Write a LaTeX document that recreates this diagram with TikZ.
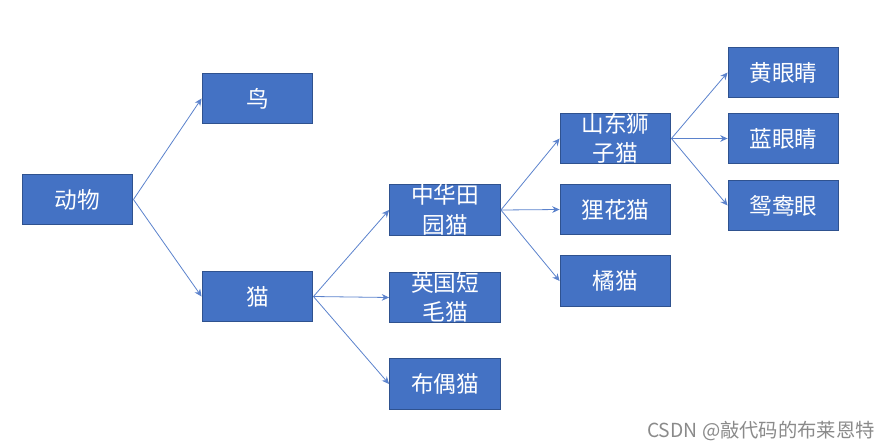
\documentclass[tikz,border=0pt]{standalone}
\usepackage{fontspec}
\newfontfamily\cjk{Noto Sans CJK SC}
\usetikzlibrary{arrows.meta}
\definecolor{boxblue}{HTML}{4472C4}
\definecolor{boxline}{HTML}{2F528F}
\definecolor{linkblue}{HTML}{5B82CC}
\definecolor{markgray}{HTML}{8A8A8A}

\begin{document}
\begin{tikzpicture}[x=0.75pt,y=-0.75pt,>={Stealth[length=5.5pt,width=5pt]},
  box/.style={draw=boxline,line width=0.9pt,fill=boxblue,text=white,
    font=\cjk\fontsize{17}{22}\selectfont,minimum width=83pt,
    minimum height=38pt,inner sep=0pt,align=center},
  link/.style={->,draw=linkblue,line width=0.6pt}]
\useasboundingbox (0,0) rectangle (892,446);
% root and first level
\node[box] (dongwu) at (77.5,199.5) {动物};
\node[box] (niao) at (257.5,98.5) {鸟};
\node[box] (mao) at (257.5,296.5) {猫};
% cat kinds
\node[box] (tianyuan) at (445,210) {中华田\\园猫};
\node[box] (yingduan) at (445,297.5) {英国短\\毛猫};
\node[box] (buou) at (445,384) {布偶猫};
% chinese cats
\node[box] (shizi) at (615.5,138.5) {山东狮\\子猫};
\node[box] (lihua) at (615.5,209.5) {狸花猫};
\node[box] (jumao) at (615.5,281) {橘猫};
% eyes
\node[box] (huang) at (783.5,72.5) {黄眼睛};
\node[box] (lan) at (783.5,138.5) {蓝眼睛};
\node[box] (yuanyang) at (783.5,205.5) {鸳鸯眼};
% connectors
\foreach \a/\b in {dongwu/niao,dongwu/mao,mao/tianyuan,mao/yingduan,mao/buou,
  tianyuan/shizi,tianyuan/lihua,tianyuan/jumao,shizi/huang,shizi/lan,shizi/yuanyang}
  {\draw[link] (\a.east) -- (\b.west);}
\node[text=markgray,font=\cjk\fontsize{14.5}{17}\selectfont] (csdn) at (761,431) {CSDN @敲代码的布莱恩特};
\end{tikzpicture}
\end{document}
